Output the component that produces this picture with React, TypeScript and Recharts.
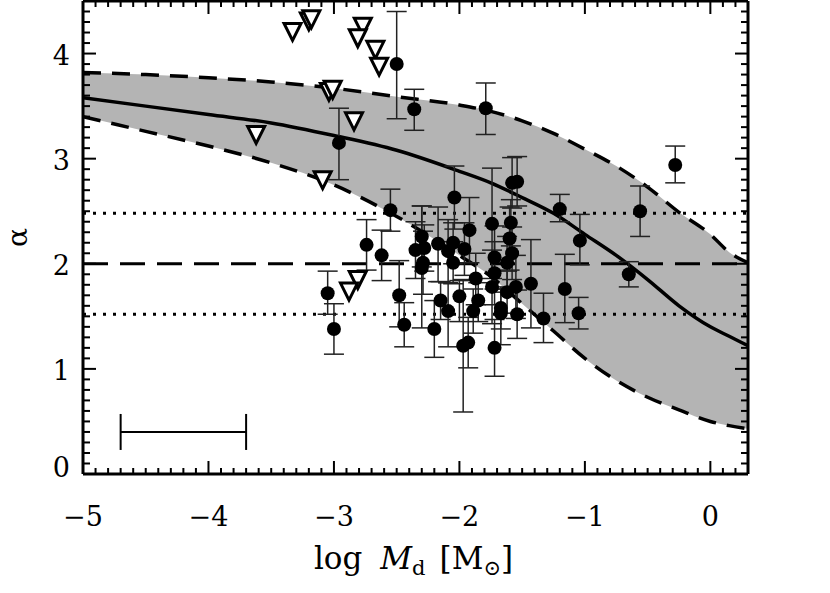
import React from 'react';
import { ComposedChart, Area, Line, Scatter, ErrorBar, XAxis, YAxis, ReferenceLine } from 'recharts';

// model curve + spread
const curveX = [-5, -4.5, -4, -3.5, -3, -2.5, -2, -1.75, -1.5, -1.25, -1, -0.75, -0.5, -0.25, 0, 0.15, 0.3];
const curveUpper = [3.82, 3.8, 3.77, 3.73, 3.67, 3.59, 3.51, 3.45, 3.36, 3.24, 3.09, 2.93, 2.73, 2.49, 2.28, 2.11, 2.01];
const curveMid = [3.58, 3.5, 3.42, 3.34, 3.22, 3.08, 2.88, 2.77, 2.63, 2.48, 2.28, 2.08, 1.85, 1.6, 1.4, 1.31, 1.22];
const curveLower = [3.4, 3.26, 3.12, 2.96, 2.75, 2.45, 2.08, 1.88, 1.62, 1.36, 1.1, 0.89, 0.73, 0.61, 0.5, 0.46, 0.43];

// detections (filled circles)
const detX = [-2.5, -2.36, -1.79, -2.96, -1.58, -1.54, -1.2, -2.04, -2.55, -0.28, -0.56, -1.04, -0.65, -1.16, -1.05, -1.33,
  -2.74, -2.62, -3.05, -3.0, -2.48, -2.44, -2.3, -2.35, -2.28, -2.29, -2.3, -2.17, -2.2, -2.15, -2.09, -2.09, -2.05, -2.05,
  -1.96, -1.92, -2.0, -1.97, -1.93, -1.87, -1.85, -1.89, -1.74, -1.72, -1.72, -1.74, -1.67, -1.67, -1.72, -1.59, -1.6,
  -1.58, -1.62, -1.62, -1.55, -1.54, -1.43];
const detY = [3.9, 3.47, 3.48, 3.15, 2.77, 2.78, 2.52, 2.63, 2.51, 2.94, 2.5, 2.22, 1.9, 1.76, 1.53, 1.48,
  2.18, 2.08, 1.72, 1.38, 1.7, 1.42, 2.26, 2.13, 2.15, 2.01, 1.96, 2.19, 1.38, 1.65, 1.55, 2.12, 2.2, 2.01,
  2.14, 2.32, 1.69, 1.22, 1.25, 1.86, 1.65, 1.55, 2.38, 2.06, 1.91, 1.78, 1.58, 1.53, 1.2, 2.39, 2.24,
  2.1, 2.01, 1.73, 1.78, 1.52, 1.81];
const detErrLo = [0.52, 0.2, 0.25, 0.35, 0.24, 0.23, 0.12, 0.3, 0.2, 0.17, 0.24, 0.23, 0.12, 0.32, 0.15, 0.23,
  0.24, 0.24, 0.2, 0.24, 0.3, 0.21, 0.29, 0.27, 0.22, 0.3, 0.57, 0.36, 0.27, 0.18, 0.34, 0.3, 0.2, 0.2,
  0.25, 0.31, 0.24, 0.63, 0.24, 0.25, 0.2, 0.21, 0.52, 0.3, 0.3, 0.35, 0.2, 0.3, 0.27, 0.22, 0.3,
  0.25, 0.25, 0.2, 0.3, 0.23, 0.42];
const detErrHi = [0.5, 0.19, 0.24, 0.33, 0.24, 0.24, 0.14, 0.3, 0.2, 0.18, 0.24, 0.25, 0.12, 0.33, 0.15, 0.24,
  0.24, 0.24, 0.21, 0.24, 0.33, 0.21, 0.29, 0.27, 0.22, 0.3, 0.59, 0.35, 0.27, 0.18, 0.27, 0.3, 0.19, 0.2,
  0.25, 0.31, 0.15, 0.63, 0.24, 0.24, 0.17, 0.21, 0.53, 0.3, 0.3, 0.35, 0.2, 0.2, 0.27, 0.22, 0.3,
  0.25, 0.25, 0.2, 0.3, 0.23, 0.42];

// upper limits (open triangles)
const limX = [-3.62, -3.33, -3.2, -3.18, -2.77, -2.81, -2.67, -2.64, -3.04, -3.01, -2.84, -3.09, -2.81, -2.88];
const limY = [3.23, 4.21, 4.31, 4.33, 4.26, 4.15, 4.04, 3.88, 3.64, 3.66, 3.36, 2.8, 1.85, 1.74];

// typical x uncertainty bar
const barX = [-4.2];
const barY = [0.4];
const barErr = [0.5];

const alphaRef = 2.0;
const alphaLow = 1.52;
const alphaHigh = 2.48;

const xTicks = Array.from({ length: 54 }, (_, i) => (i - 50) / 10);
const yTicks = Array.from({ length: 46 }, (_, i) => i / 10);

const curveData = curveX.map((x, i) => ({
  x,
  mid: curveMid[i],
  upper: curveUpper[i],
  lower: curveLower[i],
  band: [curveLower[i], curveUpper[i]],
}));
const detData = detX.map((x, i) => ({ x, y: detY[i], err: [detErrLo[i], detErrHi[i]] }));
const limData = limX.map((x, i) => ({ x, y: limY[i] }));
const barData = barX.map((x, i) => ({ x, y: barY[i], xerr: barErr[i] }));

const FONT = '"DejaVu Serif", serif';
const isMajor = (v: number) => Math.abs(v - Math.round(v)) < 1e-6;
const fmt = (v: number) => (v < 0 ? '\u2212' + Math.abs(Math.round(v)) : String(Math.round(v)));

const BottomTick = (p: any) => {
  const v = p.payload.value;
  const major = isMajor(v);
  return (
    <g>
      <line x1={p.x} y1={p.y} x2={p.x} y2={p.y - (major ? 13 : 6)} stroke="#000" strokeWidth={2} />
      {major && (
        <text x={p.x} y={p.y + 52} textAnchor="middle" fontFamily={FONT} fontSize={27} fill="#000">
          {fmt(v)}
        </text>
      )}
    </g>
  );
};

const TopTick = (p: any) => {
  const major = isMajor(p.payload.value);
  return <line x1={p.x} y1={p.y} x2={p.x} y2={p.y + (major ? 13 : 6)} stroke="#000" strokeWidth={2} />;
};

const LeftTick = (p: any) => {
  const v = p.payload.value;
  const major = isMajor(v);
  // the bottom label sits a little higher, clear of the x axis
  const dy = v === 0 ? -7 : 2;
  return (
    <g>
      <line x1={p.x} y1={p.y} x2={p.x + (major ? 13 : 7)} y2={p.y} stroke="#000" strokeWidth={2} />
      {major && (
        <text x={p.x - 13} y={p.y + dy} textAnchor="end" dominantBaseline="central" fontFamily={FONT} fontSize={27} fill="#000">
          {fmt(v)}
        </text>
      )}
    </g>
  );
};

const RightTick = (p: any) => {
  const major = isMajor(p.payload.value);
  return <line x1={p.x} y1={p.y} x2={p.x - (major ? 13 : 7)} y2={p.y} stroke="#000" strokeWidth={2} />;
};

const XTitle = (p: any) => {
  const vb = p.viewBox;
  return (
    <text x={vb.x + vb.width / 2 - 2} y={vb.y + 95} textAnchor="middle" fontFamily={FONT} fontSize={31} fill="#000">
      log
      <tspan dx={18} fontStyle="italic">M</tspan>
      <tspan fontSize={21} dy={6}>d</tspan>
      <tspan dx={14} dy={-6}>[M</tspan>
      <tspan fontSize={21} dy={6}>{'\u2299'}</tspan>
      <tspan dy={-6}>]</tspan>
    </text>
  );
};

const YTitle = (p: any) => {
  const vb = p.viewBox;
  const cy = vb.y + vb.height / 2;
  return (
    <text x={17} y={cy} transform={`rotate(-90, 17, ${cy})`} textAnchor="middle" dominantBaseline="central"
      fontFamily={FONT} fontSize={28} fill="#000">
      {'\u03b1'}
    </text>
  );
};

const Dot = (p: any) => <circle cx={p.cx} cy={p.cy} r={7} fill="#000" />;
const Tri = (p: any) => (
  <polygon
    points={`${p.cx - 8.5},${p.cy - 8} ${p.cx + 8.5},${p.cy - 8} ${p.cx},${p.cy + 9}`}
    fill="#fff"
    stroke="#000"
    strokeWidth={3}
    strokeLinejoin="miter"
  />
);
const Nothing = () => <g />;

const axisLine = { stroke: '#000', strokeWidth: 3 };

export default function App() {
  return (
    <div style={{ position: 'absolute', left: 0, top: 0, width: 830, height: 593, background: '#fff' }}>
      <ComposedChart width={830} height={593} data={curveData} margin={{ top: 0, right: 81, bottom: 0, left: 0 }}>
        <Area dataKey="band" type="monotone" fill="#b4b4b4" fillOpacity={1} stroke="none" isAnimationActive={false} />
        <Line dataKey="upper" type="monotone" stroke="#000" strokeWidth={3.5} strokeDasharray="18 11" dot={false} isAnimationActive={false} />
        <Line dataKey="lower" type="monotone" stroke="#000" strokeWidth={3.5} strokeDasharray="18 11" dot={false} isAnimationActive={false} />
        <Line dataKey="mid" type="monotone" stroke="#000" strokeWidth={3.5} dot={false} isAnimationActive={false} />
        <ReferenceLine y={alphaRef} stroke="#000" strokeWidth={3} strokeDasharray="25 12" />
        <ReferenceLine y={alphaHigh} stroke="#000" strokeWidth={3} strokeDasharray="3 7" />
        <ReferenceLine y={alphaLow} stroke="#000" strokeWidth={3} strokeDasharray="3 7" />
        <Scatter data={detData} dataKey="y" shape={Dot} isAnimationActive={false}>
          <ErrorBar dataKey="err" direction="y" width={10} stroke="#222" strokeWidth={1.5} />
        </Scatter>
        <Scatter data={limData} dataKey="y" shape={Tri} isAnimationActive={false} />
        <Scatter data={barData} dataKey="y" shape={Nothing} isAnimationActive={false}>
          <ErrorBar dataKey="xerr" direction="x" width={18} stroke="#000" strokeWidth={2} />
        </Scatter>
        <XAxis dataKey="x" type="number" domain={[-5, 0.3]} allowDataOverflow ticks={xTicks} interval={0}
          tickSize={0} tickMargin={0} tickLine={false} tick={BottomTick} height={119} axisLine={axisLine} label={XTitle} />
        <XAxis xAxisId="top" orientation="top" dataKey="x" type="number" domain={[-5, 0.3]} allowDataOverflow ticks={xTicks}
          interval={0} tickSize={0} tickMargin={0} tickLine={false} tick={TopTick} height={1} axisLine={axisLine} />
        <YAxis type="number" domain={[0, 4.5]} allowDataOverflow ticks={yTicks} interval={0} tickSize={0} tickMargin={0}
          tickLine={false} tick={LeftTick} width={83} axisLine={axisLine} label={YTitle} />
        <YAxis yAxisId="right" orientation="right" type="number" domain={[0, 4.5]} allowDataOverflow ticks={yTicks}
          interval={0} tickSize={0} tickMargin={0} tickLine={false} tick={RightTick} width={1} axisLine={axisLine} />
      </ComposedChart>
    </div>
  );
}
